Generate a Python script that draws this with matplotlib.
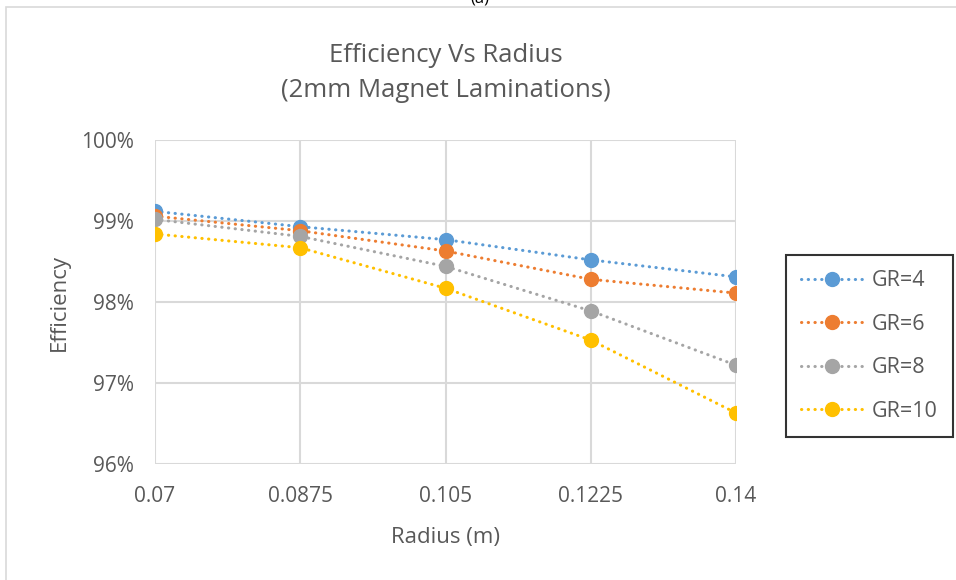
import matplotlib
matplotlib.use("Agg")
import matplotlib.pyplot as plt
from matplotlib.patches import Rectangle
from matplotlib.ticker import FuncFormatter

radius = [0.07, 0.0875, 0.105, 0.1225, 0.14]
x_ticks = ["0.07", "0.0875", "0.105", "0.1225", "0.14"]
gr4 = [99.12, 98.93, 98.77, 98.52, 98.31]
gr6 = [99.06, 98.88, 98.63, 98.28, 98.11]
gr8 = [99.02, 98.81, 98.44, 97.89, 97.22]
gr10 = [98.84, 98.67, 98.17, 97.53, 96.63]
series = [("GR=4", gr4, "#5b9bd5"), ("GR=6", gr6, "#ed7d31"),
          ("GR=8", gr8, "#a5a5a5"), ("GR=10", gr10, "#ffc000")]

plt.rcParams["font.family"] = ["Open Sans", "DejaVu Sans"]
txt = "#595959"

fig = plt.figure(figsize=(9.56, 5.8), dpi=100)
ax = fig.add_axes([155 / 956, 0.2, (736 - 155) / 956, 0.7586 - 0.2])

for name, vals, col in series:
    ax.plot(radius, vals, color=col, lw=2.2, ls=(0, (0.1, 2.1)),
            dash_capstyle="round", marker="o", ms=10, label=name)

ax.set_xlim(0.07, 0.14)
ax.set_ylim(96, 100)
ax.set_xticks(radius)
ax.set_xticklabels(x_ticks)
ax.set_yticks([96, 97, 98, 99, 100])
ax.yaxis.set_major_formatter(FuncFormatter(lambda v, p: f"{v:.0f}%"))
ax.grid(True, color="#d9d9d9", lw=1.5)
ax.set_axisbelow(True)
for s in ax.spines.values():
    s.set_visible(False)
ax.tick_params(length=0, labelsize=15, colors=txt)
ax.tick_params(axis="y", pad=15)
ax.tick_params(axis="x", pad=16)
ax.set_xlabel("Radius (m)", fontsize=16, color=txt, labelpad=14)
ax.set_ylabel("Efficiency", fontsize=16, color=txt, labelpad=8)
ax.set_title("Efficiency Vs Radius\n(2mm Magnet Laminations)",
             fontsize=18.5, color=txt, pad=31, linespacing=1.5)

leg = fig.legend(loc="upper left", bbox_to_anchor=(786 / 956, 1 - 255 / 580),
                 frameon=True, fancybox=False, fontsize=15.5, labelcolor=txt,
                 handlelength=2.9, labelspacing=1.05, borderpad=0.7,
                 handletextpad=0.4, borderaxespad=0)
leg.get_frame().set_edgecolor("black")
leg.get_frame().set_linewidth(1.5)

fig.patches.append(Rectangle((6 / 956, -0.05), 1.1, 1 - 7 / 580 + 0.05,
                             transform=fig.transFigure, fill=False,
                             edgecolor="#d9d9d9", lw=1.2))
fig.text(0.502, 1 + 2 / 580, "(a)", ha="center", va="center", fontsize=12, color="black")

fig.savefig("out.png", dpi=100)
